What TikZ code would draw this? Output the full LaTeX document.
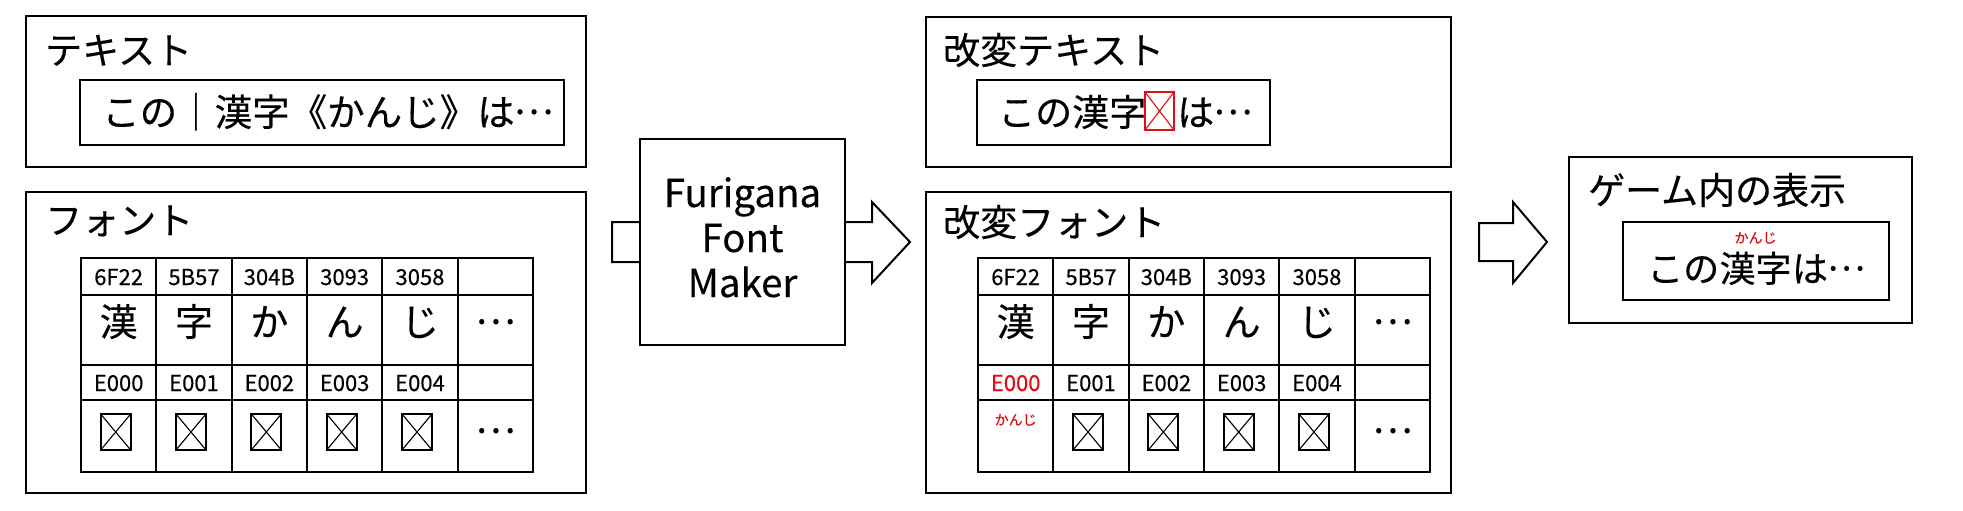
\documentclass[tikz,border=0pt]{standalone}
\usepackage{fontspec}
\setmainfont{Noto Sans CJK JP}[FakeBold=0.3]
\usetikzlibrary{calc}
\definecolor{rubyred}{RGB}{225,12,20}
\newcommand{\fsz}[1]{\fontsize{#1}{#1}\selectfont}
\newcommand{\el}{\makebox[1em][c]{\raisebox{0.32em}{…}}}
\newcommand{\drawtofu}[3]{%
  \draw[tofuframe,#3] ({#1-15},{#2-18}) rectangle ({#1+15},{#2+18});
  \draw[tofux,#3] ({#1-15},{#2-18}) -- ({#1+15},{#2+18})
                  ({#1+15},{#2-18}) -- ({#1-15},{#2+18});}
% #1 = left x, #2 = name prefix, #3 = colour of the first private-use code
\newcommand{\fonttable}[3]{%
  \draw[gridline] (#1,258) rectangle ({#1+452},472);
  \foreach \i in {1,...,5} \draw[gridline] ({#1+\i*75.33},258) -- ({#1+\i*75.33},472);
  \foreach \yy in {295,365,400} \draw[gridline] (#1,\yy) -- ({#1+452},\yy);
  \foreach \t [count=\i] in {6F22,5B57,304B,3093,3058}
    \node[hexcode] (#2h\i) at ({#1+(\i-0.5)*75.33},285) {\t};
  \foreach \t [count=\i] in {漢,字,か,ん,じ,\el}
    \node[glyph] (#2g\i) at ({#1+(\i-0.5)*75.33},336) {\t};
  \node[hexcode,text=#3] (#2p1) at ({#1+0.5*75.33},391) {E000};
  \foreach \t [count=\i from 2] in {E001,E002,E003,E004}
    \node[hexcode] (#2p\i) at ({#1+(\i-0.5)*75.33},391) {\t};
  \node[glyph] (#2d6) at ({#1+5.5*75.33},445) {\el};}

\begin{document}
\begin{tikzpicture}[x=1pt,y=-1pt,
  frame/.style={draw=black, line width=2.6pt, fill=white, inner sep=0pt, outer sep=0pt, anchor=north west},
  title/.style={anchor=base west, inner sep=0pt, font=\fsz{37}},
  bigtext/.style={anchor=base west, inner sep=0pt, font=\fsz{37}},
  latin/.style={anchor=base, inner sep=0pt, font=\fsz{38.5}},
  hexcode/.style={anchor=base, inner sep=0pt, font=\fsz{22}},
  glyph/.style={anchor=base, inner sep=0pt, font=\fsz{38}},
  ruby/.style={anchor=base, inner sep=0pt, font=\fsz{14}, text=rubyred},
  blockarrow/.style={draw=black, line width=2pt, fill=white, line join=miter},
  gridline/.style={line width=2pt},
  tofuframe/.style={line width=2pt},
  tofux/.style={line width=1.1pt}]
\useasboundingbox (0,0) rectangle (1963,511);

% ---------- left column ----------
\node[frame, minimum width=560pt, minimum height=151pt] (txt) at (26,16) {};
\node[title] (txtT) at (45,64) {テキスト};
\node[frame, minimum width=484pt, minimum height=65pt] (txtIn) at (80,80) {};
\node[bigtext, font=\fsz{37.5}] (txtS) at (102,126) {この｜漢字《かんじ》は\el};

\node[frame, minimum width=560pt, minimum height=301pt] (fnt) at (26,192) {};
\node[title] (fntT) at (45,234) {フォント};
\fonttable{81}{b}{black}
\foreach \i in {1,...,5} {\drawtofu{115.67+(\i-1)*75.33}{432}{black}}

% ---------- block arrow 1 and the tool ----------
\coordinate (a1tail) at (612,242);
\coordinate (a1tip)  at (910,242);
\draw[blockarrow] ($(a1tail)+(0,-20)$) -- ($(a1tip)+(-38,-20)$) -- ($(a1tip)+(-38,-40)$)
   -- (a1tip) -- ($(a1tip)+(-38,41)$) -- ($(a1tip)+(-38,20)$) -- ($(a1tail)+(0,20)$) -- cycle;
\node[frame, minimum width=205pt, minimum height=206pt] (fm) at (640,139) {};
\node[latin] (fm1) at (742.5,207) {Furigana};
\node[latin] (fm2) at (742.5,252) {Font};
\node[latin] (fm3) at (742.5,297) {Maker};

% ---------- middle column ----------
\node[frame, minimum width=525pt, minimum height=150pt] (mtxt) at (926,17) {};
\node[title] (mtxtT) at (943,64) {改変テキスト};
\node[frame, minimum width=293pt, minimum height=65pt] (mtxtIn) at (977,80) {};
\node[bigtext] (mt1) at (998,126) {この漢字};
\draw[line width=2pt, rubyred] (1145,92) rectangle (1174,130);
\draw[line width=1.1pt, rubyred] (1145,92) -- (1174,130) (1174,92) -- (1145,130);
\node[bigtext] (mt2) at (1177,126) {は\el};

\node[frame, minimum width=525pt, minimum height=301pt] (mfnt) at (926,192) {};
\node[title] (mfntT) at (943,236) {改変フォント};
\fonttable{978}{d}{rubyred}
\node[ruby] (dr1) at ({978+0.5*75.33},425) {かんじ};
\foreach \i in {2,...,5} {\drawtofu{1012.67+(\i-1)*75.33}{432}{black}}

% ---------- block arrow 2 ----------
\coordinate (a2tail) at (1479,242);
\coordinate (a2tip)  at (1547,242);
\draw[blockarrow] ($(a2tail)+(0,-19)$) -- ($(a2tip)+(-34,-19)$) -- ($(a2tip)+(-34,-40)$)
   -- (a2tip) -- ($(a2tip)+(-34,41)$) -- ($(a2tip)+(-34,19)$) -- ($(a2tail)+(0,19)$) -- cycle;

% ---------- right column ----------
\node[frame, minimum width=343pt, minimum height=166pt] (game) at (1569,157) {};
\node[title] (gameT) at (1588,204) {ゲーム内の表示};
\node[frame, minimum width=266pt, minimum height=78pt] (gameIn) at (1623,222) {};
\node[bigtext, font=\fsz{36}] (g1) at (1647,282) {この};
\node[bigtext, font=\fsz{36}] (g2) at (g1.base east) {漢字};
\node[bigtext, font=\fsz{36}] (g3) at (g2.base east) {は\el};
\node[ruby] (gr) at ($(g2.base)+(0,-39)$) {かんじ};
\end{tikzpicture}
\end{document}
